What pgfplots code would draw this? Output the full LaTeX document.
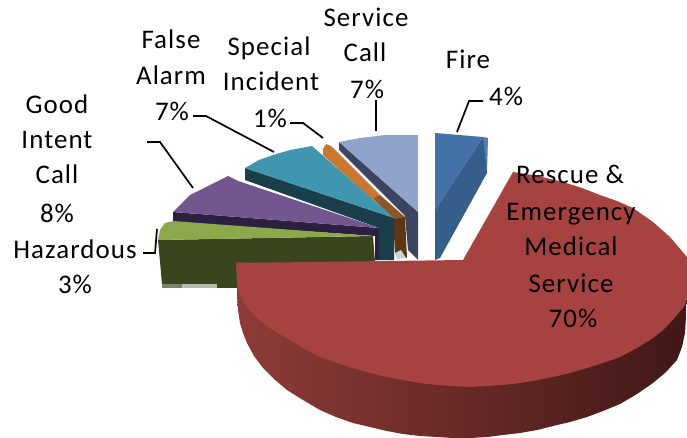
\documentclass[border=0pt]{standalone}
\usepackage{pgfplots}
\usepackage{fontspec}
\setmainfont{Carlito}
\pgfplotsset{compat=1.18}

\definecolor{fireT}{HTML}{4472A8}
\definecolor{fireS}{HTML}{355E8A}
\definecolor{fireE}{HTML}{5580A5}
\definecolor{servT}{HTML}{8FA3CC}
\definecolor{servS}{HTML}{3B4560}
\definecolor{specT}{HTML}{C9772F}
\definecolor{specM}{HTML}{8F5726}
\definecolor{specS}{HTML}{5E3614}
\definecolor{specW}{HTML}{C5D5D8}
\definecolor{falseT}{HTML}{3F96AE}
\definecolor{falseS}{HTML}{1A3F4B}
\definecolor{goodT}{HTML}{72568F}
\definecolor{goodS}{HTML}{2C2040}
\definecolor{hazT}{HTML}{8BA84A}
\definecolor{hazS}{HTML}{3A451E}
\definecolor{hazA}{HTML}{7A8468}
\definecolor{hazB}{HTML}{B6BDAA}
\definecolor{resT}{HTML}{A64340}
\definecolor{resL}{HTML}{8E3B38}
\definecolor{resM}{HTML}{642A28}
\definecolor{resR}{HTML}{411816}

\newcommand{\lab}[3]{\node[anchor=base,inner sep=0pt,font=\fontsize{27}{30}\selectfont\addfontfeature{LetterSpace=4}] at (axis cs:#1,#2) {#3};}

\begin{document}
\begin{tikzpicture}
\begin{axis}[
    hide axis,
    scale only axis,
    width=687bp, height=438bp,
    xmin=0, xmax=687,
    ymin=0, ymax=438,
    y dir=reverse,
]
% service call
\addplot[fill=servS, draw=none] coordinates {(339,142)(339,150)(405,216)(408,250)(418,260)(418,212)};
\addplot[fill=servT, draw=none] coordinates {(339,142)(360,138)(385,135)(418,135)(418,212)};
% special incident
\addplot[fill=specS, draw=none] coordinates {(393,218)(395,253)(407,258)(405,217)};
\addplot[fill=specM, draw=none] coordinates {(372,198)(380,195)(405,217)(394,219)};
\addplot[fill=specT, draw=none] coordinates {(323,149)(326,144)(331,146)(380,195)(372,199)(323,155)};
\addplot[fill=specW, draw=none] coordinates {(395,253)(401,250)(406,258)(397,259)};
% false alarm
\addplot[fill=falseS, draw=none] coordinates {(245,168)(245,180)(379,228)(379,260)(394,260)(394,218)};
\addplot[fill=falseT, draw=none] coordinates {(245,168)(259,160)(273,155)(290,150)(312,146)(394,218)};
% good intent call
\addplot[fill=goodS, draw=none] coordinates {(173,212)(173,222)(375,236)(375,260)(379,260)(379,228)};
\addplot[fill=goodT, draw=none] coordinates {(173,212)(190,195)(228,176)(238,181)(379,228)};
% hazardous
\addplot[fill=hazS, draw=none] coordinates {(158,240)(373,236)(375,262)(300,287)(217,288)(217,284)(162,284)};
\addplot[fill=hazT, draw=none] coordinates {(158,240)(160,230)(165,223)(173,221)(373,236)};
\addplot[fill=hazA, draw=none] coordinates {(162,284)(182,284)(182,288)(162,288)};
\addplot[fill=hazB, draw=none] coordinates {(182,284)(217,284)(217,288)(182,288)};
% fire
\addplot[fill=fireE, draw=none] coordinates {(483,137)(488,138)(487,173)(470,195)};
\addplot[fill=fireS, draw=none] coordinates {(483,137)(487,173)(440,258)(435,260)(435,210)};
\addplot[fill=fireT, draw=none] coordinates {(435,133)(483,137)(435,210)};
% rescue
\addplot[draw=none, left color=resL, middle color=resM, right color=resR] coordinates {(237,262)(237,297)(238,310)(240,323)(243,333)(247,343)(254,356)(263,368)(274,379)(287,390)(303,400)(320,410)(336,417)(353,423)(370,427)(387,431)(403,434)(420,436)(437,437)(453,438)(470,438)(487,437)(503,435)(520,433)(537,430)(553,426)(570,422)(587,417)(603,411)(620,404)(637,394)(653,383)(666,372)(677,360)(682,347)(685,333)(687,300)(653,300)};
\addplot[fill=resT, draw=none] coordinates {(236,263)(463,260)(513,172)(538,176)(563,182)(582,188)(600,195)(617,201)(633,208)(653,222)(670,237)(687,257)(687,298)(685,305)(678,314)(670,323)(662,331)(653,338)(637,348)(620,357)(603,363)(587,368)(570,373)(553,377)(537,380)(520,383)(503,385)(487,386)(470,387)(453,386)(437,385)(420,383)(403,380)(387,377)(370,373)(353,368)(337,363)(320,357)(303,348)(287,338)(274,331)(263,323)(254,315)(247,307)(243,302)(240,297)(237,283)};
% leaders
\addplot[black, line width=1.7bp] coordinates {(376,100)(376,131)};
\addplot[black, line width=1.7bp] coordinates {(483,101)(469,101)(457,132)};
\addplot[black, line width=1.7bp] coordinates {(290,123)(303,123)(323,138)};
\addplot[black, line width=1.7bp] coordinates {(193,116)(206,116)(274,152)};
\addplot[black, line width=1.7bp] coordinates {(147,142)(160,142)(193,188)};
\addplot[black, line width=1.7bp] coordinates {(143,253)(155,253)(157,229)};
% labels
\lab{366}{27}{Service}
\lab{365}{62}{Call}
\lab{367}{98}{7\%}
\lab{171}{49}{False}
\lab{171}{85}{Alarm}
\lab{172}{120}{7\%}
\lab{269}{56}{Special}
\lab{271}{91}{Incident}
\lab{270}{127}{1\%}
\lab{57}{113}{Good}
\lab{57}{148}{Intent}
\lab{57}{183}{Call}
\lab{57}{222}{8\%}
\lab{75}{258}{Hazardous}
\lab{75}{293}{3\%}
\lab{468}{69}{Fire}
\lab{506}{105}{4\%}
\lab{570}{183}{Rescue \&}
\lab{571}{220}{Emergency}
\lab{571}{255}{Medical}
\lab{571}{292}{Service}
\lab{573}{327}{70\%}
\coordinate (A) at (axis cs:0,0);
\coordinate (B) at (axis cs:687,438);
\end{axis}
\pgfresetboundingbox
\path[use as bounding box] (A) rectangle (B);
\end{tikzpicture}
\end{document}
